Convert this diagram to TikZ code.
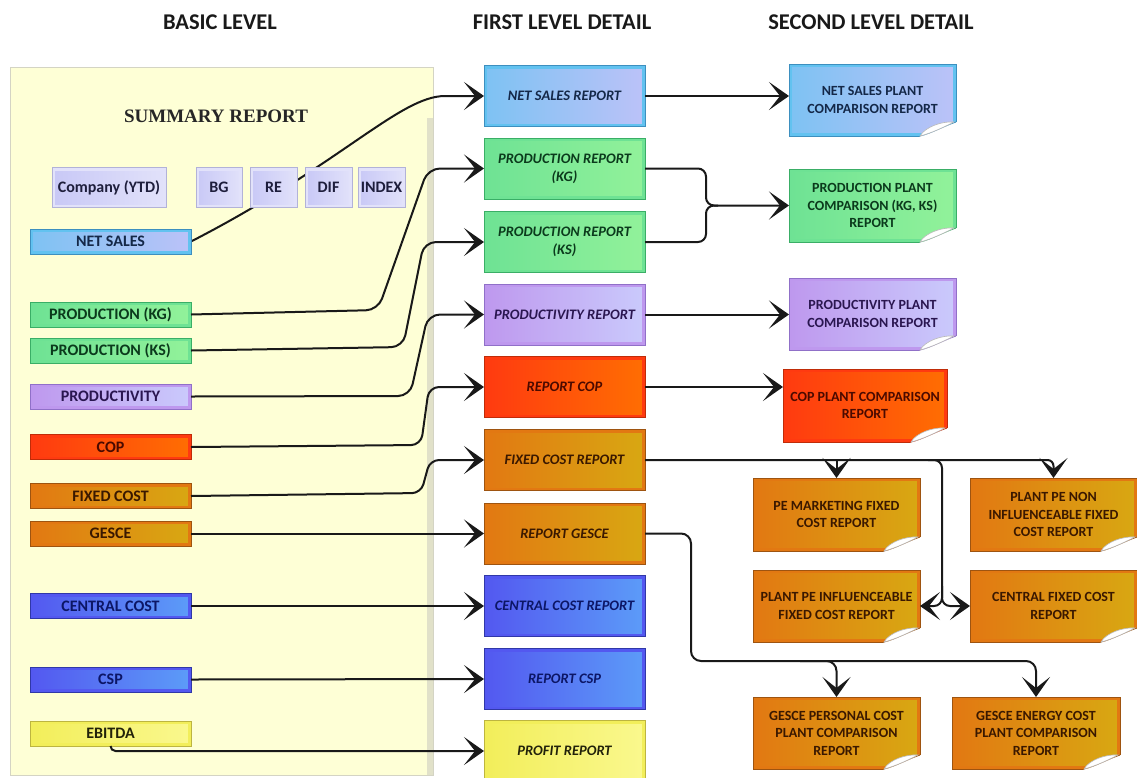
\documentclass[tikz,border=0pt]{standalone}
\usepackage{fontspec}
\setmainfont{Carlito}
\newfontfamily\summaryfont{Liberation Serif}
\usetikzlibrary{arrows.meta,calc}
\pgfdeclarelayer{behind}
\pgfsetlayers{behind,main}

% colour families: A = left tone, B = right tone, E = edge, T = text
\definecolor{netA}{HTML}{62C2F0}\definecolor{netB}{HTML}{BCC2F8}\definecolor{netE}{HTML}{3D8FBF}\definecolor{netT}{HTML}{142848}
\definecolor{grnA}{HTML}{6EE294}\definecolor{grnB}{HTML}{92F29A}\definecolor{grnE}{HTML}{3AAE66}\definecolor{grnT}{HTML}{0B3A1C}
\definecolor{purA}{HTML}{BE98EE}\definecolor{purB}{HTML}{CACAFC}\definecolor{purE}{HTML}{9070C8}\definecolor{purT}{HTML}{2A1650}
\definecolor{copA}{HTML}{FF3A10}\definecolor{copB}{HTML}{FF6E02}\definecolor{copE}{HTML}{C02C08}\definecolor{copT}{HTML}{4A0A00}
\definecolor{orgA}{HTML}{E27812}\definecolor{orgB}{HTML}{D8A812}\definecolor{orgE}{HTML}{9E5410}\definecolor{orgT}{HTML}{3A1800}
\definecolor{bluA}{HTML}{5358F0}\definecolor{bluB}{HTML}{5C9CF8}\definecolor{bluE}{HTML}{3038A8}\definecolor{bluT}{HTML}{0C1666}
\definecolor{ylwA}{HTML}{F2EE5A}\definecolor{ylwB}{HTML}{FAF88E}\definecolor{ylwE}{HTML}{BDB540}\definecolor{ylwT}{HTML}{22220A}
\definecolor{lavA}{HTML}{C8C8F6}\definecolor{lavB}{HTML}{E2E2FA}\definecolor{lavE}{HTML}{B2B2D8}\definecolor{lavT}{HTML}{1E1E3C}
\definecolor{panelF}{HTML}{FEFFD6}\definecolor{panelE}{HTML}{D4D4C4}

\tikzset{
  bevel/.style={path picture={\draw[#1, line width=6pt]
      (path picture bounding box.south west) rectangle (path picture bounding box.north east);}},
  famnet/.style={left color=netA!70!netB, right color=netB, draw=netE, text=netT, bevel=netA},
  famgrn/.style={left color=grnA, right color=grnB, draw=grnE, text=grnT, bevel=grnA},
  fampur/.style={left color=purA, right color=purB, draw=purE, text=purT, bevel=purA},
  famcop/.style={left color=copA, right color=copB, draw=copE, text=copT, bevel=copA},
  famorg/.style={left color=orgA, right color=orgB, draw=orgE, text=orgT, bevel=orgA},
  famblu/.style={left color=bluA, right color=bluB, draw=bluE, text=bluT, bevel=bluA},
  famylw/.style={left color=ylwA, right color=ylwB, draw=ylwE, text=ylwT, bevel=ylwA},
  famlav/.style={left color=lavA, right color=lavB, draw=lavE, text=lavT, bevel=lavB},
  plainrect/.style={rectangle, inner sep=0pt, outer sep=0pt, line width=0.9pt, align=center},
  lbox/.style={plainrect, minimum width=161pt, minimum height=25pt,
      font=\fontsize{16}{18}\selectfont\bfseries},
  mbox/.style={plainrect, minimum width=161pt, minimum height=61pt,
      font=\fontsize{14.5}{18}\selectfont\bfseries\itshape},
  sbox/.style={plainrect, minimum width=167pt, minimum height=72pt,
      font=\fontsize{14}{17.5}\selectfont\bfseries},
  btn/.style={plainrect, famlav, minimum height=40pt,
      font=\fontsize{16}{18}\selectfont\bfseries},
  hdr/.style={font=\fontsize{22.5}{26}\selectfont\bfseries, text=black!90},
  conn/.style={line width=2pt, black!90},
  arrowend/.style={-{Stealth[length=20pt,width=28pt,inset=11pt]}},
}

% folded corner at the lower right of a report sheet
\newcommand\pagecurl[2]{%
  \coordinate (pc-c) at (#1.south east);
  \coordinate (pc-a) at ($(pc-c)+(0,-14)$);
  \coordinate (pc-b) at ($(pc-c)+(-36,0)$);
  \fill[white] (pc-a) -- ($(pc-c)+(2,-14)$) -- ($(pc-c)+(2,2)$) -- ($(pc-b)+(0,2)$) -- (pc-b)
     .. controls ($(pc-b)+(12,-3)$) and ($(pc-a)+(-12,4)$) .. (pc-a) -- cycle;
  \draw[#2, line width=0.9pt] (pc-b) .. controls ($(pc-b)+(12,-3)$) and ($(pc-a)+(-12,4)$) .. (pc-a);
  \filldraw[fill=white, draw=gray!55, line width=0.6pt] (pc-b)
     .. controls ($(pc-b)+(5,-9)$) and ($(pc-a)+(-14,-1)$) .. ($(pc-a)+(-2,0)$)
     .. controls ($(pc-a)+(-10,4)$) and ($(pc-b)+(12,-3)$) .. (pc-b) -- cycle;
}

\begin{document}
\begin{tikzpicture}[x=1pt,y=-1pt]
\useasboundingbox (0,0) rectangle (1137,777);

% column headings
\node[hdr] (h1) at (220,22) {BASIC LEVEL};
\node[hdr] (h2) at (562,22) {FIRST LEVEL DETAIL};
\node[hdr] (h3) at (871,22) {SECOND LEVEL DETAIL};

% summary panel
\begin{pgfonlayer}{behind}
  \fill[panelF] (10,67) rectangle (433,775);
  \fill[panelE!70!panelF] (427,118) rectangle (433,775);
  \draw[panelE, line width=1pt] (10,67) rectangle (433,775);
\end{pgfonlayer}
\node[font=\summaryfont\fontsize{19}{22}\selectfont\bfseries, text=black!85] (sumt) at (216,116) {SUMMARY REPORT};

\node[btn, minimum width=114pt] (bco) at (109,187.5) {Company (YTD)};
\node[btn, minimum width=46pt] (bbg) at (219,187.5) {BG};
\node[btn, minimum width=47pt] (bre) at (273.5,187.5) {RE};
\node[btn, minimum width=47pt] (bdif) at (328.5,187.5) {DIF};
\node[btn, minimum width=47pt] (bidx) at (381.5,187.5) {INDEX};

% basic level items
\node[lbox, famnet] (bns)  at (110.5,241.5) {NET SALES};
\node[lbox, famgrn] (bkg)  at (110.5,314.5) {PRODUCTION (KG)};
\node[lbox, famgrn] (bks)  at (110.5,350.5) {PRODUCTION (KS)};
\node[lbox, fampur] (bprd) at (110.5,396.5) {PRODUCTIVITY};
\node[lbox, famcop] (bcop) at (110.5,447) {COP};
\node[lbox, famorg] (bfix) at (110.5,496) {FIXED COST};
\node[lbox, famorg] (bges) at (110.5,533.5) {GESCE};
\node[lbox, famblu] (bcen) at (110.5,606) {CENTRAL COST};
\node[lbox, famblu] (bcsp) at (110.5,679.5) {CSP};
\node[lbox, famylw] (bebi) at (110.5,733.5) {EBITDA};

% first level reports
\node[mbox, famnet] (nsr)  at (564.5,96)    {NET SALES REPORT};
\node[mbox, famgrn] (pkg)  at (564.5,168.5) {PRODUCTION REPORT\\(KG)};
\node[mbox, famgrn] (pks)  at (564.5,242)   {PRODUCTION REPORT\\(KS)};
\node[mbox, fampur] (prd)  at (564.5,314.5) {PRODUCTIVITY REPORT};
\node[mbox, famcop] (rcop) at (564.5,387)   {REPORT COP};
\node[mbox, famorg] (fcr)  at (564.5,460)   {FIXED COST REPORT};
\node[mbox, famorg] (rges) at (564.5,533.5) {REPORT GESCE};
\node[mbox, famblu] (ccr)  at (564.5,606)   {CENTRAL COST REPORT};
\node[mbox, famblu] (rcsp) at (564.5,679)   {REPORT CSP};
\node[mbox, famylw] (prof) at (564.5,751)   {PROFIT REPORT};

% second level reports
\node[sbox, famnet] (nsp)  at (872.5,100)   {NET SALES PLANT\\COMPARISON REPORT};
\node[sbox, famgrn, minimum height=73pt] (ppc) at (872.5,205.5) {PRODUCTION PLANT\\COMPARISON (KG, KS)\\REPORT};
\node[sbox, fampur] (ppr)  at (872.5,314)   {PRODUCTIVITY PLANT\\COMPARISON REPORT};
\node[sbox, famcop, minimum width=164pt, minimum height=73pt] (copp) at (865,405.5) {COP PLANT COMPARISON\\REPORT};
\node[sbox, famorg, minimum height=73pt] (pemk) at (836.5,514.5) {PE MARKETING FIXED\\COST REPORT};
\node[sbox, famorg, minimum height=73pt] (pnon) at (1053.5,514.5) {PLANT PE NON\\INFLUENCEABLE FIXED\\COST REPORT};
\node[sbox, famorg] (pinf) at (836.5,606)    {PLANT PE INFLUENCEABLE\\FIXED COST REPORT};
\node[sbox, famorg] (cfix) at (1053.5,606)   {CENTRAL FIXED COST\\REPORT};
\node[sbox, famorg] (gper) at (836.5,733)    {GESCE PERSONAL COST\\PLANT COMPARISON\\REPORT};
\node[sbox, famorg, minimum width=168pt] (gene) at (1036,733) {GESCE ENERGY COST\\PLANT COMPARISON\\REPORT};

\pagecurl{nsp}{netE}
\pagecurl{ppc}{grnE}
\pagecurl{ppr}{purE}
\pagecurl{copp}{copE}
\pagecurl{pemk}{orgE}
\pagecurl{pnon}{orgE}
\pagecurl{pinf}{orgE}
\pagecurl{cfix}{orgE}
\pagecurl{gper}{orgE}
\pagecurl{gene}{orgE}

% basic level -> first level
\begin{pgfonlayer}{behind}
  \draw[conn, arrowend] (bns.east) .. controls (340,165) and (400,96) .. (445,96) -- (nsr.west);
\end{pgfonlayer}
\draw[conn, arrowend, rounded corners=12pt] (bkg.east) -- (378,310) -- (428,168.5) -- (pkg.west);
\draw[conn, arrowend, rounded corners=12pt] (bks.east) -- (403,347) -- (424,242) -- (pks.west);
\draw[conn, arrowend, rounded corners=12pt] (bprd.east) -- (410,396) -- (428,314.5) -- (prd.west);
\draw[conn, arrowend, rounded corners=10pt] (bcop.east) -- (421,445) -- (429,387) -- (rcop.west);
\draw[conn, arrowend, rounded corners=9pt] (bfix.east) -- (421,493) -- (430,460) -- (fcr.west);
\draw[conn, arrowend] (bges.east) -- (rges.west);
\draw[conn, arrowend] (bcen.east) -- (ccr.west);
\draw[conn, arrowend] (bcsp.east) -- (rcsp.west);
\draw[conn, arrowend, rounded corners=5pt] (bebi.south) |- (prof.west);

% first level -> second level
\draw[conn, arrowend] (nsr.east) -- (nsp.west |- nsr.east);
\coordinate (brace) at (706,205.5);
\draw[conn, arrowend, rounded corners=8pt] (pkg.east) -- (706,168.5) -- (brace) -- (ppc.west);
\draw[conn, rounded corners=8pt] (pks.east) -- (706,242) -- (brace) -- (718,205.5);
\draw[conn, arrowend] (prd.east) -- (ppr.west |- prd.east);
\draw[conn, arrowend] (rcop.east) -- (copp.west |- rcop.east);

% fixed cost breakdown
\draw[conn, arrowend, rounded corners=6pt] (fcr.east) -| (pnon.north);
\draw[conn, arrowend] (pemk.north |- fcr.east) -- (pemk.north);
\coordinate (split) at (942,606);
\draw[conn, arrowend, rounded corners=8pt] (928,460) -| (split) -- (pinf.east);
\draw[conn, arrowend, rounded corners=8pt] (942,586) -- (split) -- (cfix.west);

% gesce breakdown
\draw[conn, arrowend, rounded corners=10pt] (rges.east) -- (691,533.5) -- (691,661) -- (836.5,661) -- (gper.north);
\draw[conn, arrowend, rounded corners=10pt] (800,661) -- (1036,661) -- (gene.north);
\end{tikzpicture}
\end{document}
